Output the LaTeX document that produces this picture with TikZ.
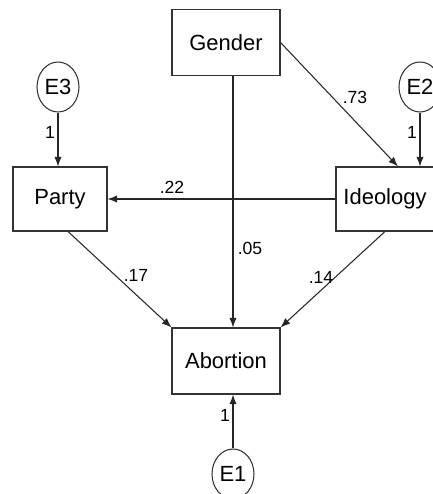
\documentclass[tikz,border=0pt]{standalone}
\usepackage{tikz}
\usepackage{xcolor}
\usepackage{fontspec}
\setmainfont{Liberation Sans}
\usetikzlibrary{arrows.meta,shapes.geometric}

\begin{document}
\begin{tikzpicture}[x=0.02cm,y=-0.02cm,
  var/.style={draw=black!80,line width=0.6pt,minimum width=2.16cm,minimum height=1.32cm,font=\fontsize{12.5}{14}\selectfont},
  err/.style={ellipse,draw=black!80,line width=0.6pt,minimum width=0.84cm,minimum height=1cm,inner sep=0pt,font=\fontsize{12.5}{14}\selectfont},
  lbl/.style={font=\fontsize{10}{12}\selectfont,inner sep=0pt},
  path/.style={draw=black!85,line width=0.6pt,-{Latex[length=5.5pt,width=4.2pt]}}]
\useasboundingbox (0,0) rectangle (433,494);

\node[var] (gender) at (226,42.5) {Gender};
\node[var,minimum width=1.88cm,minimum height=1.28cm] (party) at (60,199) {Party};
\node[var,minimum width=1.96cm,minimum height=1.28cm] (ideology) at (385,199) {Ideology};
\node[var] (abortion) at (226,361) {Abortion};

\node[err] (e3) at (58,87) {E3};
\node[err] (e2) at (420,87) {E2};
\node[err] (e1) at (233,474) {E1};

\draw[path] (e3) -- (party.north -| e3);
\draw[path] (e2) -- (ideology.north -| e2);
\draw[path] (e1) -- (abortion.south -| e1);
\draw[path] (gender.east) -- ([xshift=0.26cm]ideology.north);
\draw[path] (ideology.west) -- (party.east);
\draw[path] (gender.south -| e1) -- (abortion.north -| e1);
\draw[path] ([xshift=0.16cm]party.south) -- (abortion.north west);
\draw[path] (ideology.south) -- (abortion.north east);

\node[lbl] (l1) at (50,132) {1};
\node[lbl] (l2) at (412,132) {1};
\node[lbl] (l3) at (225,415) {1};
\node[lbl] (l73) at (355,97) {.73};
\node[lbl] (l22) at (172,187) {.22};
\node[lbl] (l05) at (250,248) {.05};
\node[lbl] (l17) at (136,275) {.17};
\node[lbl] (l14) at (321,277) {.14};
\end{tikzpicture}
\end{document}
